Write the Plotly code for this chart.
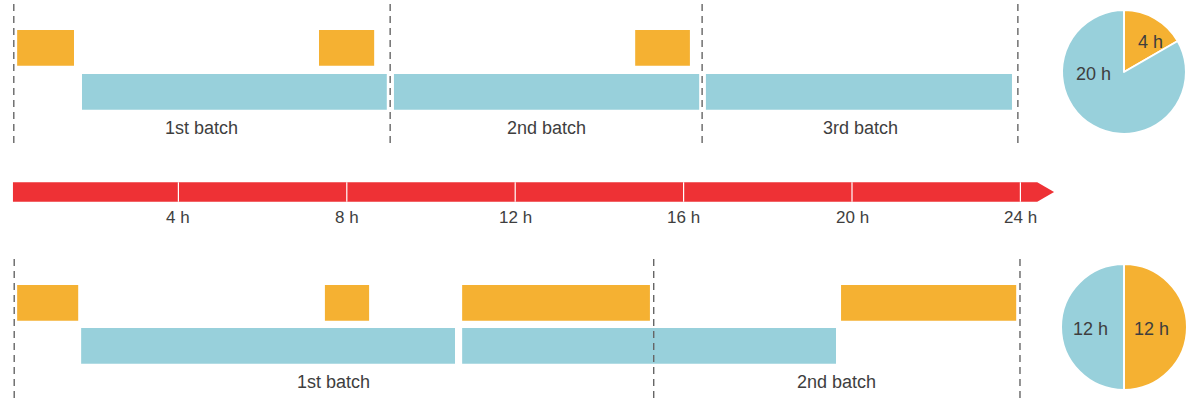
import plotly.graph_objects as go

# ---------------- data (hours) ----------------
top_orange_start = [0.17, 7.34, 14.85]
top_orange_end = [1.52, 8.65, 16.15]
top_blue_start = [1.71, 9.12, 16.53]
top_blue_end = [8.95, 16.37, 23.80]
top_batch_bounds = [0.09, 9.03, 16.44, 23.94]
top_batch_labels = ["1st batch", "2nd batch", "3rd batch"]

bot_orange_start = [0.17, 7.48, 10.74, 19.74]
bot_orange_end = [1.62, 8.53, 15.20, 23.90]
bot_blue_start = [1.69, 10.74]
bot_blue_end = [10.57, 19.62]
bot_batch_bounds = [0.10, 15.29, 23.99]
bot_batch_labels = ["1st batch", "2nd batch"]

tick_hours = [4, 8, 12, 16, 20, 24]
tick_labels = ["4 h", "8 h", "12 h", "16 h", "20 h", "24 h"]
timeline_start = 0
timeline_end = 24

top_pie_values = [4, 20]
bot_pie_values = [12, 12]

# ---------------- style ----------------
ORANGE = "#F5B132"
BLUE = "#98D0DB"
RED = "#EE3135"
DASH = "#666666"
TEXT = "#3E3E3E"
FONT = "Liberation Sans, Arial, sans-serif"
W, H = 1193, 401
PX0, PXH = 10.0, 42.1  # pixel of 0 h, pixels per hour

BAR_H = 35.7
rows = {"top_o": 47.85, "top_b": 91.85, "bot_o": 302.85, "bot_b": 345.85}

fig = go.Figure()


def add_bars(starts, ends, ycen, color):
    fig.add_trace(go.Bar(
        orientation="h",
        base=starts,
        x=[e - s for s, e in zip(starts, ends)],
        y=[ycen] * len(starts),
        width=BAR_H,
        marker=dict(color=color, line=dict(width=0)),
        hoverinfo="skip",
    ))


add_bars(top_orange_start, top_orange_end, rows["top_o"], ORANGE)
add_bars(top_blue_start, top_blue_end, rows["top_b"], BLUE)
add_bars(bot_orange_start, bot_orange_end, rows["bot_o"], ORANGE)
add_bars(bot_blue_start, bot_blue_end, rows["bot_b"], BLUE)

# red timeline arrow
y_top, y_bot = 182.3, 201.7
body_end = timeline_end + 0.40
tip = timeline_end + 0.80
fig.add_trace(go.Scatter(
    x=[timeline_start + 0.07, body_end, tip, body_end, timeline_start + 0.07, timeline_start + 0.07],
    y=[y_top, y_top, (y_top + y_bot) / 2, y_bot, y_bot, y_top],
    mode="lines", line=dict(width=0, color=RED),
    fill="toself", fillcolor=RED, hoverinfo="skip",
))

shapes = []
annotations = []


def font(size):
    return dict(family=FONT, size=size, color=TEXT)


# tick marks + labels
for h, lab in zip(tick_hours, tick_labels):
    shapes.append(dict(type="line", xref="x", yref="y", x0=h, x1=h, y0=y_top, y1=y_bot,
                       line=dict(color="white", width=1.2), layer="above"))
    annotations.append(dict(x=h, y=217, xref="x", yref="y", text=lab, showarrow=False,
                            font=font(17), xanchor="center", yanchor="middle"))

# dashed batch boundaries
for b in top_batch_bounds:
    shapes.append(dict(type="line", xref="x", yref="y", x0=b, x1=b, y0=4, y1=145,
                       line=dict(color=DASH, width=1.4, dash="7px,5px"), layer="above"))
for b in bot_batch_bounds:
    shapes.append(dict(type="line", xref="x", yref="y", x0=b, x1=b, y0=259, y1=400,
                       line=dict(color=DASH, width=1.4, dash="7px,5px"), layer="above"))

# batch labels centered between boundaries
for i, lab in enumerate(top_batch_labels):
    c = (top_batch_bounds[i] + top_batch_bounds[i + 1]) / 2
    annotations.append(dict(x=c, y=128, xref="x", yref="y", text=lab, showarrow=False,
                            font=font(18), xanchor="center", yanchor="middle"))
for i, lab in enumerate(bot_batch_labels):
    c = (bot_batch_bounds[i] + bot_batch_bounds[i + 1]) / 2
    annotations.append(dict(x=c, y=382, xref="x", yref="y", text=lab, showarrow=False,
                            font=font(18), xanchor="center", yanchor="middle"))


# pies
def add_pie(values, cx, cy, r):
    fig.add_trace(go.Pie(
        values=values,
        marker=dict(colors=[ORANGE, BLUE], line=dict(color="white", width=2)),
        sort=False, direction="clockwise", rotation=0,
        textinfo="none", hoverinfo="skip",
        domain=dict(x=[(cx - r) / W, (cx + r) / W], y=[1 - (cy + r) / H, 1 - (cy - r) / H]),
    ))


add_pie(top_pie_values, 1124, 72, 62)
add_pie(bot_pie_values, 1124, 327, 63)

pie_label_pos = [(1150, 42), (1093, 74), (1151, 329), (1090, 329)]
pie_texts = [f"{v} h" for v in top_pie_values + bot_pie_values]
for (lx, ly), t in zip(pie_label_pos, pie_texts):
    annotations.append(dict(x=lx / W, y=1 - ly / H, xref="paper", yref="paper", text=t,
                            showarrow=False, font=font(18),
                            xanchor="center", yanchor="middle"))

fig.update_layout(
    width=W, height=H,
    margin=dict(l=0, r=0, t=0, b=0),
    paper_bgcolor="white", plot_bgcolor="white",
    showlegend=False,
    barmode="overlay",
    xaxis=dict(range=[(0 - PX0) / PXH, (W - PX0) / PXH], visible=False, fixedrange=True,
               domain=[0, 1]),
    yaxis=dict(range=[H, 0], visible=False, fixedrange=True, domain=[0, 1]),
    shapes=shapes,
    annotations=annotations,
)

fig.write_html(
    "out.html",
    config={"displayModeBar": False},
    post_script="document.body.style.margin='0';document.body.style.padding='0';document.body.style.overflow='hidden';",
)
